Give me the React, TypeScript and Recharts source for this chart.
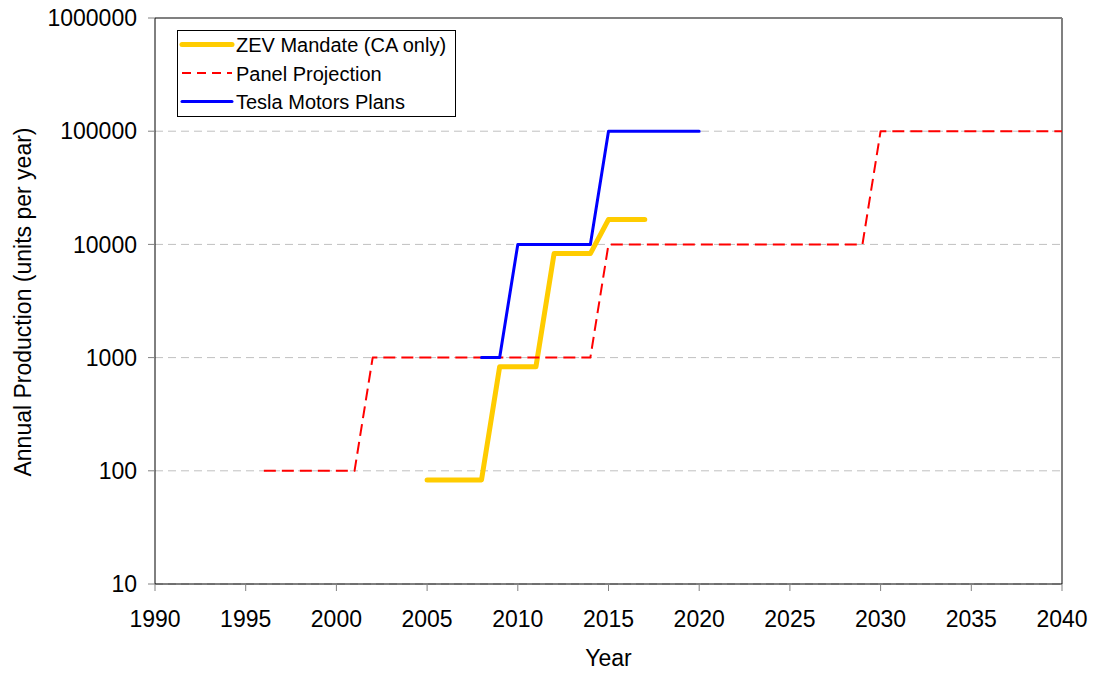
import React from "react";
import {
  LineChart,
  Line,
  XAxis,
  YAxis,
  CartesianGrid,
  ReferenceLine,
} from "recharts";

const FONT = '"Liberation Sans", Arial, sans-serif';

// x ticks (years) and y ticks (units per year, log scale)
const yearTicks = [1990, 1995, 2000, 2005, 2010, 2015, 2020, 2025, 2030, 2035, 2040];
const unitTicks = [10, 100, 1000, 10000, 100000, 1000000];

// ZEV Mandate (CA only)
const zevYears = [2005, 2008, 2009, 2011, 2012, 2014, 2015, 2017];
const zevUnits = [83, 83, 830, 830, 8300, 8300, 16600, 16600];

// Panel Projection
const panelYears = [1996, 2001, 2002, 2014, 2015, 2029, 2030, 2040];
const panelUnits = [100, 100, 1000, 1000, 10000, 10000, 100000, 100000];

// Tesla Motors Plans
const teslaYears = [2008, 2009, 2010, 2014, 2015, 2020];
const teslaUnits = [1000, 1000, 10000, 10000, 100000, 100000];

const toPoints = (xs: number[], ys: number[]) => xs.map((x, i) => ({ x, y: ys[i] }));

const series = [
  { name: "ZEV Mandate (CA only)", data: toPoints(zevYears, zevUnits), color: "#FFCC00", width: 5, dash: undefined, legendDash: undefined },
  { name: "Panel Projection", data: toPoints(panelYears, panelUnits), color: "#FF0000", width: 2, dash: "12 6", legendDash: "9 6" },
  { name: "Tesla Motors Plans", data: toPoints(teslaYears, teslaUnits), color: "#0000FF", width: 3, dash: undefined, legendDash: undefined },
];

// legend box drawn as an overlay so it doesn't eat into the plot area
function ChartLegend() {
  return (
    <svg width={280} height={88} style={{ display: "block" }}>
      <rect x={0.5} y={0.5} width={278} height={86} fill="#fff" stroke="#000" strokeWidth={1} />
      {series.map((s, i) => (
        <g key={s.name}>
          <line
            x1={5}
            x2={55}
            y1={14.5 + i * 28.5}
            y2={14.5 + i * 28.5}
            stroke={s.color}
            strokeWidth={s.width}
            strokeDasharray={s.legendDash}
            strokeLinecap={s.dash ? "butt" : "round"}
          />
          <text x={59} y={22 + i * 28.5} fontSize={20} fontFamily={FONT} fill="#000">
            {s.name}
          </text>
        </g>
      ))}
    </svg>
  );
}

export default function App() {
  return (
    <div style={{ position: "absolute", left: 0, top: 0, width: 1098, height: 677, background: "#fff" }}>
      <LineChart
        width={1098}
        height={677}
        margin={{ top: 18, right: 36, left: 0, bottom: 0 }}
      >
        <CartesianGrid
          vertical={false}
          stroke="#c0c0c0"
          strokeDasharray="8 5"
        />
        <XAxis
          type="number"
          dataKey="x"
          domain={[1990, 2040]}
          ticks={yearTicks}
          allowDecimals={false}
          height={93}
          tickSize={7}
          tickMargin={20}
          axisLine={{ stroke: "#000", strokeWidth: 1 }}
          tickLine={{ stroke: "#808080" }}
          tick={{ fill: "#000", fontSize: 23, fontFamily: FONT }}
          label={{
            content: () => (
              <text x={608.5} y={666} textAnchor="middle" fontSize={23} fontFamily={FONT} fill="#000">
                Year
              </text>
            ),
          }}
        />
        <YAxis
          type="number"
          dataKey="y"
          scale="log"
          domain={[10, 1000000]}
          ticks={unitTicks}
          allowDataOverflow
          width={155}
          tickSize={7}
          tickMargin={11}
          axisLine={{ stroke: "#000", strokeWidth: 1 }}
          tickLine={{ stroke: "#808080" }}
          tick={{ fill: "#000", fontSize: 23, fontFamily: FONT }}
          label={{
            content: () => (
              <text
                x={31}
                y={302}
                transform="rotate(-90, 31, 302)"
                textAnchor="middle"
                fontSize={23}
                fontFamily={FONT}
                fill="#000"
              >
                Annual Production (units per year)
              </text>
            ),
          }}
        />
        <ReferenceLine y={1000000} stroke="#808080" strokeWidth={2} />
        <ReferenceLine x={2040} stroke="#808080" strokeWidth={2} />
        {series.map((s) => (
          <Line
            key={s.name}
            data={s.data}
            dataKey="y"
            name={s.name}
            type="linear"
            stroke={s.color}
            strokeWidth={s.width}
            strokeDasharray={s.dash}
            strokeLinecap={s.dash ? "butt" : "round"}
            strokeLinejoin="round"
            dot={false}
            activeDot={false}
            isAnimationActive={false}
          />
        ))}
      </LineChart>
      <div style={{ position: "absolute", left: 177, top: 30 }}>
        <ChartLegend />
      </div>
    </div>
  );
}
